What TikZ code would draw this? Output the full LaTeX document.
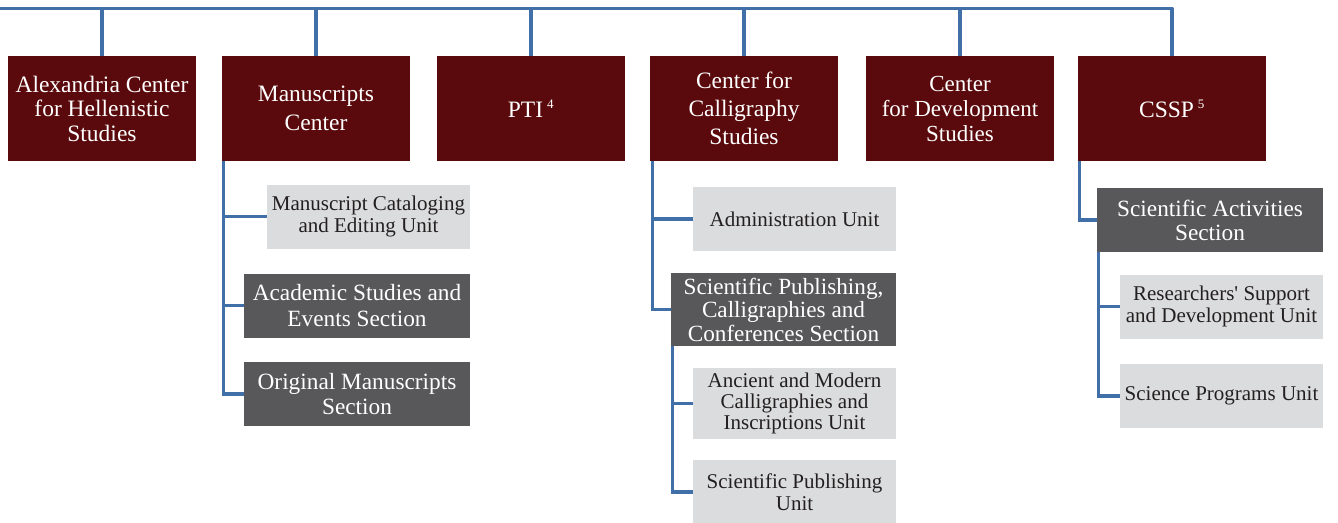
\documentclass[tikz,border=0pt]{standalone}
\usepackage{fontspec}
\setmainfont{Liberation Serif}[Ligatures=TeXOff]
\definecolor{topred}{HTML}{5A0A0C}
\definecolor{secgray}{HTML}{58585A}
\definecolor{unitgray}{HTML}{DBDCDD}
\definecolor{linkblue}{HTML}{4170A8}
\definecolor{inkdark}{HTML}{231F20}
\begin{document}
\begin{tikzpicture}[x=1pt,y=-1pt,
  topbox/.style={fill=topred, text=white, align=center, minimum width=188, minimum height=105, inner sep=0pt, font=\fontsize{23.5}{24.5}\selectfont},
  secbox/.style={fill=secgray, text=white, align=center, minimum width=226, minimum height=64, inner sep=0pt, font=\fontsize{23.3}{24.5}\selectfont},
  unitbox/.style={fill=unitgray, text=inkdark, align=center, minimum width=203, minimum height=64, inner sep=0pt, font=\fontsize{21}{22.5}\selectfont},
  conn/.style={draw=linkblue, line width=3.3pt},
  bar/.style={draw=linkblue, line width=3.7pt, line join=round}]
\useasboundingbox (0,0) rectangle (1338,522);
\fill[white] (0,0) rectangle (1338,522);

% top level
\node[topbox] (b1) at (102,108.5) {Alexandria Center\\for Hellenistic\\Studies};
\node[topbox, font=\fontsize{23.5}{29}\selectfont] (b2) at (316,108.5) {Manuscripts\\Center};
\node[topbox] (b3) at (531,108.5) {PTI\,\textsuperscript{\fontsize{13}{13}\selectfont 4}};
\node[topbox, font=\fontsize{23.5}{28}\selectfont] (b4) at (744,108.5) {Center for\\Calligraphy\\Studies};
\node[topbox, font=\fontsize{23}{25}\selectfont] (b5) at (960,108.5) {Center\\for Development\\Studies};
\node[topbox] (b6) at (1172,108.5) {CSSP\,\textsuperscript{\fontsize{13}{13}\selectfont 5}};

\coordinate (L) at (0,8.5);
\draw[bar] (L) -| (b6.north);
\foreach \b in {b1,b2,b3,b4,b5}{
  \draw[bar] (\b.north |- L) -- (\b.north);
}

% Manuscripts Center children
\node[unitbox] (s1) at (368.5,216.5) {Manuscript Cataloging\\and Editing Unit};
\node[secbox, font=\fontsize{23.3}{26}\selectfont] (s2) at (357,305.5) {Academic Studies and\\Events Section};
\node[secbox] (s3) at (357,394) {Original Manuscripts\\Section};
\coordinate (m0) at ([xshift=1.7pt]b2.south west);
\draw[conn] (m0) |- (s1.west);
\draw[conn] (m0) |- (s2.west);
\draw[conn] (m0) |- (s3.west);

% Calligraphy children
\node[unitbox] (c1) at (794.5,219) {Administration Unit};
\node[secbox, minimum width=225, minimum height=73, font=\fontsize{23.2}{23.5}\selectfont] (c2) at (783.5,309.5) {Scientific Publishing,\\Calligraphies and\\Conferences Section};
\node[unitbox, minimum height=71, font=\fontsize{21}{21}\selectfont] (c3) at (794.5,403.5) {Ancient and Modern\\Calligraphies and\\Inscriptions Unit};
\node[unitbox] (c4) at (794.5,492) {Scientific Publishing\\Unit};
\coordinate (k0) at ([xshift=3pt]b4.south west);
\draw[conn] (k0) |- (c1.west);
\draw[conn] (k0) |- (c2.west);
\coordinate (k1) at ([xshift=2pt]c2.south west);
\draw[conn] (k1) |- (c3.west);
\draw[conn] (k1) |- (c4.west);

% CSSP children
\node[secbox, font=\fontsize{23.3}{24}\selectfont] (d1) at (1210,220) {Scientific Activities\\Section};
\node[unitbox, font=\fontsize{21}{22}\selectfont] (d2) at (1221.5,306.5) {Researchers' Support\\and Development Unit};
\node[unitbox] (d3) at (1221.5,396) {Science Programs Unit};
\coordinate (p0) at ([xshift=1.5pt]b6.south west);
\draw[conn] (p0) |- (d1.west);
\coordinate (p1) at ([xshift=2pt]d1.south west);
\draw[conn] (p1) |- (d2.west);
\draw[conn] (p1) |- (d3.west);
\end{tikzpicture}
\end{document}
